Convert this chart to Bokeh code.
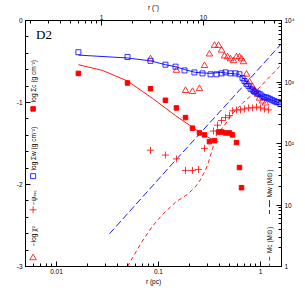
import numpy as np
from bokeh.plotting import figure
from bokeh.models import Range1d, LogAxis, LogScale, FixedTicker, Label, CustomJSTickFormatter
from bokeh.embed import file_html
from bokeh.resources import INLINE

# ---------------- data ----------------
# warm-component surface density, log Sigma_w (open blue squares)
r_sw = [0.0164, 0.0497, 0.0835, 0.117, 0.147, 0.180, 0.225, 0.270, 0.324, 0.371,
        0.415, 0.454, 0.508, 0.569, 0.622, 0.667, 0.697, 0.729, 0.762, 0.798,
        0.836, 0.873, 0.914, 0.956, 1.0, 1.046, 1.094, 1.145, 1.197, 1.252,
        1.310, 1.371, 1.434, 1.500, 1.569]
sigma_w = [-0.387, -0.445, -0.492, -0.539, -0.563, -0.609, -0.633, -0.645, -0.656, -0.656,
           -0.645, -0.633, -0.645, -0.645, -0.656, -0.703, -0.738, -0.773, -0.797, -0.832,
           -0.844, -0.867, -0.879, -0.891, -0.902, -0.926, -0.938, -0.938, -0.949, -0.961,
           -0.973, -0.984, -0.996, -0.996, -1.020]
# fit of log Sigma_w (blue line)
r_sw_fit = [0.0164, 0.0497, 0.0835, 0.117, 0.147, 0.180, 0.230, 0.316, 0.405, 0.497,
            0.622, 0.697, 0.798, 1.046, 1.535]
sigma_w_fit = [-0.422, -0.457, -0.492, -0.539, -0.563, -0.598, -0.633, -0.645, -0.633, -0.645,
               -0.656, -0.715, -0.832, -0.926, -1.008]
# cold-component surface density, log Sigma_c (filled red squares)
r_sc = [0.0164, 0.0497, 0.0835, 0.117, 0.150, 0.184, 0.2155, 0.2523, 0.2825, 0.316,
        0.354, 0.388, 0.415, 0.454, 0.497, 0.531, 0.582, 0.622, 0.652]
sigma_c = [-0.645, -0.762, -0.832, -0.973, -1.066, -1.184, -1.313, -1.371, -1.395, -1.477,
           -1.465, -1.359, -1.359, -1.371, -1.371, -1.395, -1.488, -1.793, -2.039]
# fit of log Sigma_c (red line)
r_sc_fit = [0.0164, 0.0283, 0.0497, 0.0873, 0.147, 0.2014, 0.2582, 0.338, 0.388]
sigma_c_fit = [-0.539, -0.609, -0.738, -0.949, -1.160, -1.277, -1.371, -1.453, -1.477]
# -log chi^2 (open red triangles)
r_chi = [0.0835, 0.150, 0.184, 0.2155, 0.2523, 0.2825, 0.316, 0.354, 0.388, 0.415,
         0.4436, 0.4748, 0.508, 0.5433, 0.582, 0.622, 0.652, 0.681, 0.7295, 0.780,
         0.836, 0.873, 0.935, 0.977, 1.046, 1.119]
neg_log_chi2 = [-0.469, -0.609, -0.855, -0.867, -0.832, -0.551, -0.410, -0.305, -0.305, -0.363,
                -0.434, -0.445, -0.469, -0.492, -0.445, -0.445, -0.469, -0.504, -0.656, -0.750,
                -0.809, -0.867, -0.902, -0.949, -0.984, -1.008]
# -psi_ext (red plus signs)
r_psi = [0.0835, 0.117, 0.150, 0.184, 0.2155, 0.2466, 0.2825, 0.346, 0.379, 0.415,
         0.454, 0.497, 0.531, 0.582, 0.637, 0.697, 0.762, 0.836, 0.914, 1.0,
         1.094, 1.197]
neg_psi = [-1.582, -1.641, -1.688, -1.828, -1.828, -1.816, -1.559, -1.348, -1.277, -1.219,
           -1.184, -1.160, -1.102, -1.090, -1.090, -1.078, -1.066, -1.066, -1.055, -1.066,
           -1.078, -1.090]
# enclosed masses (right axis, Msun)
r_mw = [0.0331, 0.137, 0.667, 1.607]
m_w = [3.40, 47.0, 835.0, 4217.0]
r_mc = [0.0497, 0.0681, 0.0873, 0.1094, 0.147, 0.1923, 0.2307, 0.2641, 0.302, 0.338,
        0.3705, 0.4436, 0.531, 0.667, 0.893, 1.171, 1.571]
m_c = [1.0, 2.46, 4.53, 6.98, 11.1, 14.9, 19.8, 27.4, 43.7, 80.6,
       138.0, 198.0, 305.0, 453.0, 698.0, 1114.0, 1845.0]

# tick values / labels
x_ticks = [0.01, 0.1, 1]
x_tick_labels = ["0.01", "0.1", "1"]
top_ticks = [1, 10]
top_tick_labels = ["1", "10"]
y_ticks = [-3, -2, -1, 0]
y_tick_labels = ["-3", "-2", "-1", "0"]
m_ticks = [1, 10, 100, 1000, 10000]
m_tick_labels = ["1", "10", "10\u00b2", "10\u00b3", "10\u2074"]

PC_PER_ARCSEC = 0.02761
X0, X1 = 0.00497, 1.607

FONT = "Liberation Sans"
FS = "6.5px"

p = figure(x_axis_type="log", x_range=Range1d(X0, X1), y_range=Range1d(-3, 0),
           width=297, height=289,
           output_backend="svg", toolbar_location=None,
           min_border_left=25, min_border_right=16, min_border_top=17, min_border_bottom=23)
p.grid.visible = False
p.outline_line_color = "black"
p.background_fill_color = "white"

bottom = p.below[0]
left = p.left[0]

p.extra_x_ranges = {"as": Range1d(X0 / PC_PER_ARCSEC, X1 / PC_PER_ARCSEC)}
p.extra_x_scales = {"as": LogScale()}
p.extra_y_ranges = {"m": Range1d(1, 1e4)}
p.extra_y_scales = {"m": LogScale()}

top = LogAxis(x_range_name="as")
right = LogAxis(y_range_name="m")
p.add_layout(top, "above")
p.add_layout(right, "right")

def dec_minor(lo_exp, hi_exp):
    out = []
    for e in range(lo_exp, hi_exp + 1):
        for k in range(2, 10):
            out.append(k * 10.0 ** e)
    return out

def fmt(tv, tl):
    return CustomJSTickFormatter(args=dict(tv=tv, tl=tl), code="""
        for (let i = 0; i < tv.length; i++) {
            if (Math.abs(tv[i] - tick) <= 1e-9 * Math.max(1, Math.abs(tv[i]))) return tl[i];
        }
        return '';
    """)

bottom.ticker = FixedTicker(ticks=x_ticks, minor_ticks=[t for t in dec_minor(-3, -1) if X0 <= t <= X1])
bottom.formatter = fmt(x_ticks, x_tick_labels)
bottom.axis_label = "r (pc)"

tmin, tmax = X0 / PC_PER_ARCSEC, X1 / PC_PER_ARCSEC
top.ticker = FixedTicker(ticks=top_ticks, minor_ticks=[t for t in dec_minor(-1, 1) if tmin <= t <= tmax])
top.formatter = fmt(top_ticks, top_tick_labels)
top.axis_label = "r ('')"

left.ticker = FixedTicker(ticks=y_ticks, minor_ticks=[round(-3 + 0.2 * i, 2) for i in range(16)])
left.formatter = fmt(y_ticks, y_tick_labels)

right.ticker = FixedTicker(ticks=m_ticks, minor_ticks=dec_minor(0, 3))
right.formatter = fmt(m_ticks, m_tick_labels)

for ax in (bottom, top, left, right):
    ax.major_tick_in = 5
    ax.major_tick_out = 0
    ax.minor_tick_in = 3
    ax.minor_tick_out = 0
    ax.axis_line_color = "black"
    ax.major_tick_line_color = "black"
    ax.minor_tick_line_color = "black"
    ax.major_label_text_font = FONT
    ax.major_label_text_font_size = FS
    ax.major_label_text_color = "black"
    ax.major_label_standoff = 2
    ax.axis_label_text_font = FONT
    ax.axis_label_text_font_size = FS
    ax.axis_label_text_font_style = "normal"
    ax.axis_label_text_color = "black"
    ax.axis_label_standoff = 1
top.major_label_standoff = 1
right.major_label_standoff = 3
left.major_label_standoff = 3

# ---------------- glyphs ----------------
p.line(r_mw, m_w, y_range_name="m", line_color="blue", line_dash="7 3", line_width=0.9)
p.line(r_mc, m_c, y_range_name="m", line_color="red", line_dash="4 3", line_width=0.9)
p.line(r_sc_fit, sigma_c_fit, line_color="red", line_width=0.9)
p.line(r_sw_fit, sigma_w_fit, line_color="blue", line_width=0.9)
p.scatter(r_psi, neg_psi, marker="cross", size=7, line_color="red", line_width=0.8)
p.scatter(r_sc, sigma_c, marker="square", size=4.5, fill_color="red", line_color="red")
p.scatter(r_chi, neg_log_chi2, marker="triangle", size=6.5, fill_color=None,
          line_color="red", line_width=0.8)
p.scatter(r_sw, sigma_w, marker="square", size=5, fill_color=None,
          line_color="blue", line_width=0.8)

# ---------------- key (rotated labels with sample marks) ----------------
KX = 0.0059
p.scatter([KX], [-1.078], marker="square", size=4.5, fill_color="red", line_color="red")
p.scatter([KX], [-1.898], marker="square", size=5, fill_color=None, line_color="blue", line_width=0.8)
p.scatter([KX], [-2.309], marker="cross", size=7, line_color="red", line_width=0.8)
p.scatter([KX], [-2.895], marker="triangle", size=6.5, fill_color=None, line_color="red", line_width=0.8)

def vlabel(x, y, text):
    lab = Label(x=x, y=y, text=text, angle=np.pi / 2, text_font=FONT,
                text_font_size=FS, text_align="left", text_baseline="middle",
                text_color="black")
    p.add_layout(lab)

vlabel(KX, -0.996, "log \u03a3c (g cm\u207b\u00b2)")
vlabel(KX, -1.828, "log \u03a3w (g cm\u207b\u00b2)")
vlabel(KX, -2.25, "\u2212\u03c8\u2091\u2093\u209c")
vlabel(KX, -2.75, "\u2212log \u03c7\u00b2")

RX = 1.225
vlabel(RX, -2.156, "Mw (M\u2299)")
vlabel(RX, -2.836, "Mc (M\u2299)")
p.line([RX, RX], [-2.19, -2.36], line_color="blue", line_dash="7 3", line_width=0.9)
p.line([RX, RX], [-2.88, -3.0], line_color="red", line_dash="4 3", line_width=0.9)

p.add_layout(Label(x=0.0063, y=-0.165, text="D2", text_font="Liberation Serif",
                   text_font_size="13px", text_align="left", text_baseline="middle",
                   text_color="black"))

open("out.html", "w").write(file_html(p, INLINE))
